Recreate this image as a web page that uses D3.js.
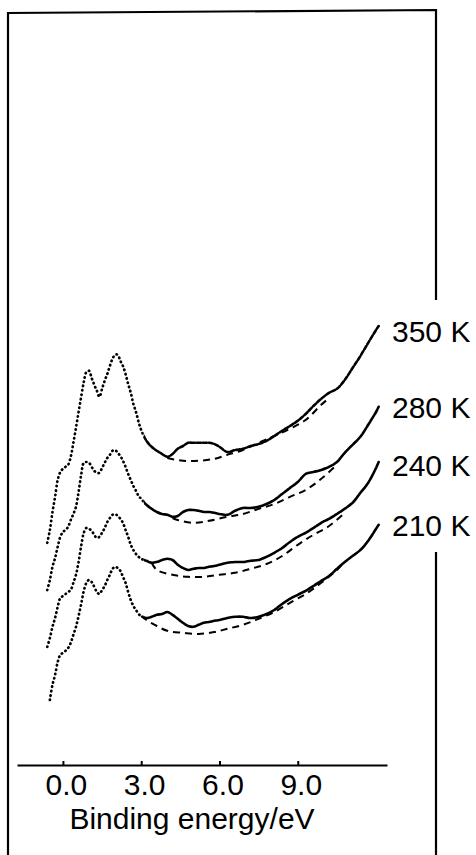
<!DOCTYPE html>
<html>
<head>
<meta charset="utf-8">
<script src="https://cdn.jsdelivr.net/npm/d3@7"></script>
<style>
  body { margin: 0; background: #fff; }
  text { font-family: "Liberation Sans", Arial, sans-serif; fill: #000; }
</style>
</head>
<body>
<script>
// binding energy grid (eV) used by the spectra
var energy = [-0.6,-0.5,-0.4,-0.3,-0.2,-0.1,0.0,0.1,0.2,0.3,0.4,0.5,0.6,0.7,0.8,0.9,
  1.0,1.1,1.2,1.3,1.4,1.5,1.6,1.7,1.8,1.9,2.0,2.1,2.2,2.3,2.4,2.5,2.6,2.7,2.8,2.9,
  3.0,3.2,3.4,3.6,3.8,4.0,4.2,4.4,4.6,4.8,5.0,5.2,5.4,5.6,5.8,6.0,6.3,6.6,6.9,
  7.2,7.5,7.8,8.1,8.4,8.7,9.0,9.3,9.6,9.9,10.2,10.5,10.8,11.1,11.4,11.7,12.0,12.1];

// intensities (arb. units, already offset for stacking), null = no point
var i350 = [56.8,60,64.5,68.3,72.5,74.5,75.3,75.8,76.3,78.3,81.8,85.5,89.5,93.3,97,99.5,
  99.8,98,96.3,94.8,93.3,95.3,97.3,99,101,102.8,103.8,103.8,102.3,101,99,96.5,94.3,91.5,89.5,87,
  85,82.3,80.8,79.8,79,78.3,79,80.3,81,81.8,81.8,81.8,81.8,81.8,81.5,80.8,79.5,80,80.3,
  81,81.5,82.3,83.5,84.8,86,87.3,89,91,92.8,94.3,95.3,97.5,100.5,103.5,106.8,110,111];
var i280 = [45,47.5,50.8,53,55.8,58.3,59.5,60,60.8,62.5,64,65.8,69.5,73.8,76.8,77,
  76.8,75.8,74.8,74.3,74.3,75.5,76.8,78,78.8,79.8,80,79.3,78.5,77.3,75.8,74,72.5,71,69.8,68.5,
  67.8,66.3,65.3,64.5,64,63.8,63.3,63.5,64.5,65,65,64.8,64.5,64.5,64.3,64,63.8,64.8,65.5,
  65.5,65.8,66.5,67.5,69,70.5,72,74,74.5,75,75.8,77,79.3,81.3,83.3,86.3,89.5,90.8];
var i240 = [30.8,33,35.8,38,40.8,43,43.5,44,44.5,45,46.8,48.8,52,56,59.3,60.5,
  60.3,59.8,58.8,58,58.3,59.3,60.5,62,63,63.8,64,63.5,62.8,61.8,60,58.3,56.3,55,54,53.3,
  52.8,52.3,51.8,52,52.5,52.8,52.5,51.3,50.5,50,50.3,50.5,50.5,50.8,51,51.3,51.8,52,52,
  52.3,52.5,53.3,54.3,55.5,57,58.3,59.3,60.5,61.8,62.8,64,65.3,66.8,69.3,71.8,75.5,77];
var i210 = [null,17.5,21.3,23.8,27,28.8,29.3,29.8,30.5,31.8,33.8,35.8,38.5,41.5,44.8,46.8,
  47.5,47,45.8,44.5,44,45,46,47.5,48.8,50.3,50.8,50.5,49.8,48.3,46.8,44.5,42.5,41,40,39,
  38.5,38,38.3,38.8,39,39.5,38.8,37.8,36.8,36,35.8,36.3,36.8,37,37.3,37.5,38,38.3,38.3,
  38,38.3,39,40,41.5,42.8,43.8,44.8,46,47.3,48.5,50.3,52,53.5,55,57.3,60.3,61.3];

// dashed background curves
var bg350E = [4.0,4.6,5.2,5.8,6.3,6.9,7.5,8.1,8.7,9.3,9.9,10.2];
var bg350I = [78,77.3,77.3,77.8,78.8,80,81.8,83.5,85.3,87.5,91.3,93];
var bg280E = [4.2,4.4,5.0,5.6,6.3,6.9,7.5,8.1,8.7,9.3,9.9,10.5];
var bg280I = [63,62.5,61.8,62.3,63.3,64,65.3,66.5,68.3,70,72.8,76.3];
var bg240E = [3.4,3.6,4.2,4.8,5.4,6.0,6.6,7.2,7.8,8.4,9.0,9.6,10.2,10.8];
var bg240I = [51.8,50,48.8,48.3,48.3,48.8,49.3,50.3,51.5,53.5,56.3,58.8,61,64.3];
var bg210E = [3.0,3.2,3.6,4.0,4.6,5.2,5.8,6.3,6.9,7.5,8.1,8.7,9.3,9.9,10.5,10.7];
var bg210I = [38.5,37.5,36,34.8,34.3,34,34.5,35.3,36.3,37.8,39.5,41.8,44,46.8,50,51.5];

var temps = ["350 K", "280 K", "240 K", "210 K"];
var xTicks = [0, 3, 6, 9];
var xTickLabels = ["0.0", "3.0", "6.0", "9.0"];
var xTitle = "Binding energy/eV";

var W = 476, H = 855;
var svg = d3.select("body").append("svg")
    .attr("width", W)
    .attr("height", H)
    .style("display", "block");

var x = d3.scaleLinear().domain([-1.76, 12.42]).range([17, 387]);
var y = d3.scaleLinear().domain([0, 100]).range([770, 370]);

// frame (open on the right where the labels sit)
svg.append("path")
    .attr("d", "M8,858 L8,13 L436,10 L436,300 M436,552 L436,858")
    .attr("fill", "none")
    .attr("stroke", "#000")
    .attr("stroke-width", 2.2);

// x axis
var xAxis = d3.axisBottom(x)
    .tickValues(xTicks)
    .tickSizeInner(-4)
    .tickSizeOuter(0)
    .tickFormat(function(d, i) { return xTickLabels[i]; });

var ax = svg.append("g")
    .attr("transform", "translate(0,765)")
    .call(xAxis);
ax.select(".domain").attr("stroke-width", 2);
ax.selectAll(".tick line").attr("stroke-width", 2);
ax.selectAll(".tick text")
    .attr("y", 30)
    .attr("dy", 0)
    .attr("dx", 3)
    .style("font-size", "30px")
    .style("font-family", "'Liberation Sans', Arial, sans-serif");

svg.append("text")
    .attr("x", 192)
    .attr("y", 829)
    .attr("text-anchor", "middle")
    .style("font-size", "30px")
    .text(xTitle);

var spectra = [i350, i280, i240, i210];
var bgs = [[bg350E, bg350I], [bg280E, bg280I], [bg240E, bg240I], [bg210E, bg210I]];
var labelY = [342, 418, 476, 536];

var line = d3.line()
    .defined(function(d) { return d[1] != null; })
    .x(function(d) { return x(d[0]); })
    .y(function(d) { return y(d[1]); })
    .curve(d3.curveCatmullRom);

// dotted part (steep low-energy side) and dense noisy part
var split = x(3.1);
svg.append("clipPath").attr("id", "left")
    .append("rect").attr("x", 0).attr("y", 0).attr("width", split).attr("height", H);
svg.append("clipPath").attr("id", "right")
    .append("rect").attr("x", split).attr("y", 0).attr("width", W - split).attr("height", H);

spectra.forEach(function(vals, k) {
    var pts = energy.map(function(e, i) { return [e, vals[i]]; });
    svg.append("path")
        .datum(pts)
        .attr("clip-path", "url(#left)")
        .attr("d", line)
        .attr("fill", "none")
        .attr("stroke", "#000")
        .attr("stroke-width", 2.7)
        .attr("stroke-linecap", "round")
        .attr("stroke-dasharray", "0.4,4");
    svg.append("path")
        .datum(pts)
        .attr("clip-path", "url(#right)")
        .attr("d", line)
        .attr("fill", "none")
        .attr("stroke", "#000")
        .attr("stroke-width", 2.6)
        .attr("stroke-linecap", "round")
        .attr("stroke-dasharray", k === 0 ? "4,2" : "6,1.2");

    var b = bgs[k];
    var bpts = b[0].map(function(e, i) { return [e, b[1][i]]; });
    svg.append("path")
        .datum(bpts)
        .attr("d", line)
        .attr("fill", "none")
        .attr("stroke", "#000")
        .attr("stroke-width", 2)
        .attr("stroke-dasharray", "7,5");

    svg.append("text")
        .attr("x", 392)
        .attr("y", labelY[k])
        .style("font-size", "30px")
        .text(temps[k]);
});
</script>
</body>
</html>
